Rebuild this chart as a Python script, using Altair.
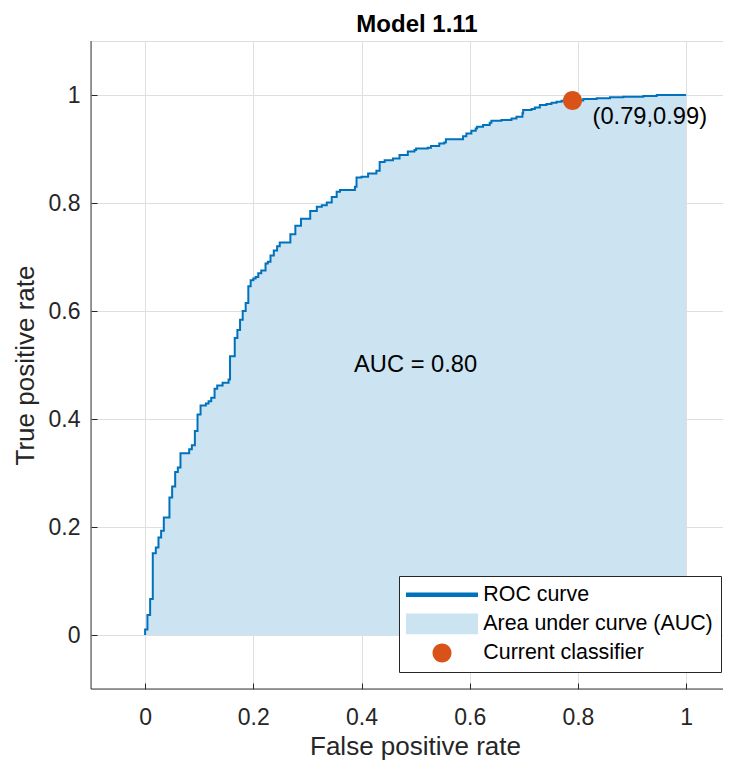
import altair as alt
import pandas as pd

# ---------------- data ----------------
FPR = [0.0, 0.0, 0.0043, 0.0093, 0.0142, 0.0198, 0.0247, 0.0296, 0.0346, 0.045,
       0.050, 0.0556, 0.0605, 0.0654, 0.0815, 0.0864, 0.092, 0.0969, 0.1025, 0.1123,
       0.1173, 0.1222, 0.1284, 0.1333, 0.1432, 0.1543, 0.157, 0.1657, 0.1706, 0.1755,
       0.1804, 0.1859, 0.1908, 0.1951, 0.2, 0.2043, 0.2092, 0.2147, 0.2226, 0.2269,
       0.2318, 0.2379, 0.244, 0.2489, 0.2685, 0.2777, 0.2881, 0.3052, 0.3174, 0.3266,
       0.3358, 0.345, 0.3541, 0.3602, 0.3878, 0.3908, 0.4, 0.4122, 0.4275, 0.4336,
       0.4428, 0.4581, 0.4703, 0.4856, 0.4979, 0.5009, 0.5223, 0.5284, 0.5437, 0.5529,
       0.556, 0.5877, 0.5938, 0.6031, 0.6111, 0.6136, 0.6247, 0.637, 0.6401, 0.6586,
       0.6772, 0.6864, 0.6975, 0.6988, 0.7142, 0.7204, 0.7296, 0.742, 0.7512, 0.7605,
       0.7698, 0.79, 0.8099, 0.8346, 0.8593, 0.884, 0.921, 0.9457, 1.0]
TPR = [0.0, 0.01, 0.037, 0.0665, 0.1516, 0.162, 0.1805, 0.193, 0.2175, 0.2545,
       0.2748, 0.302, 0.31, 0.3364, 0.3438, 0.3512, 0.3777, 0.4085, 0.4251, 0.4288,
       0.433, 0.4393, 0.456, 0.462, 0.467, 0.473, 0.516, 0.55, 0.565, 0.584,
       0.600, 0.615, 0.646, 0.657, 0.660, 0.663, 0.670, 0.675, 0.688, 0.691,
       0.703, 0.712, 0.720, 0.727, 0.742, 0.758, 0.771, 0.785, 0.793, 0.796,
       0.801, 0.811, 0.821, 0.824, 0.830, 0.847, 0.8485, 0.8547, 0.8596, 0.876,
       0.879, 0.8825, 0.889, 0.8955, 0.898, 0.901, 0.9023, 0.9054, 0.910, 0.912,
       0.918, 0.9238, 0.9288, 0.9337, 0.9381, 0.9412, 0.9443, 0.9486, 0.9523, 0.9536,
       0.9567, 0.9598, 0.966, 0.972, 0.974, 0.977, 0.9814, 0.9833, 0.9858, 0.9876,
       0.9895, 0.99, 0.9926, 0.9938, 0.9957, 0.9969, 0.9981, 1.0, 1.0]

CURRENT_FPR = 0.79
CURRENT_TPR = 0.99
AUC_VALUE = 0.80
AUC_POS = [0.5, 0.5]

X_TICKS = [0, 0.2, 0.4, 0.6, 0.8, 1]
Y_TICKS = [0, 0.2, 0.4, 0.6, 0.8, 1]
X_DOMAIN = [-0.1, 1.0682]
Y_DOMAIN = [-0.1, 1.1]

LEGEND_LABELS = ["ROC curve", "Area under curve (AUC)", "Current classifier"]
COLORS = ["#0072BD", "#CCE3F2", "#D95319"]

TITLE = "Model 1.11"
X_TITLE = "False positive rate"
Y_TITLE = "True positive rate"

# ---------------- styling ----------------
FONT = "Liberation Sans"
AX = "#262626"
GRID = "#DFDFDF"
SHAPES = [
    "M-7.2,-0.45H7.2V0.45H-7.2Z",
    "M-7.2,-2.07H7.2V2.07H-7.2Z",
    "M1.9,0A1.9,1.9,0,1,1,-1.9,0A1.9,1.9,0,1,1,1.9,0Z",
]

roc = pd.DataFrame({"fpr": FPR, "tpr": TPR, "idx": list(range(len(FPR)))})
legend_df = pd.DataFrame({
    "series": LEGEND_LABELS,
    "fpr": [None, None, CURRENT_FPR],
    "tpr": [None, None, CURRENT_TPR],
})
auc_df = pd.DataFrame({"fpr": [AUC_POS[0]], "tpr": [AUC_POS[1]],
                       "label": [f"AUC = {AUC_VALUE:.2f}"]})
cur_df = pd.DataFrame({"fpr": [CURRENT_FPR], "tpr": [CURRENT_TPR],
                       "label": [f"({CURRENT_FPR:.2f},{CURRENT_TPR:.2f})"]})

xs = alt.Scale(domain=X_DOMAIN, nice=False, zero=False)
ys = alt.Scale(domain=Y_DOMAIN, nice=False, zero=False)

xaxis = alt.Axis(
    values=X_TICKS, format="~g", title=X_TITLE, offset=-6, domain=False,
    tickSize=6, tickColor=AX, tickWidth=1,
    labelFont=FONT, labelFontSize=23, labelColor=AX, labelPadding=35,
    labelBaseline="alphabetic", labelFlush=False, labelOverlap=False,
    titleFont=FONT, titleFontSize=26, titleFontWeight="normal", titleColor=AX,
    titleX=324, titleY=71, titleBaseline="alphabetic",
    grid=True, gridColor=GRID, gridWidth=1,
)
yaxis = alt.Axis(
    values=Y_TICKS, format="~g", title=Y_TITLE, offset=-6, domain=False,
    tickSize=6, tickColor=AX, tickWidth=1,
    labelFont=FONT, labelFontSize=23, labelColor=AX, labelPadding=11,
    labelFlush=False, labelOverlap=False,
    titleFont=FONT, titleFontSize=26, titleFontWeight="normal", titleColor=AX,
    titleX=-63.4, titleY=324, titleAngle=270, titleBaseline="alphabetic",
    grid=True, gridColor=GRID, gridWidth=1,
)

X = lambda: alt.X("fpr:Q", scale=xs, axis=xaxis, title=X_TITLE)
Y = lambda: alt.Y("tpr:Q", scale=ys, axis=yaxis, title=Y_TITLE)

area = alt.Chart(roc).mark_area(
    interpolate="step-after", color=COLORS[1], opacity=1
).encode(x=X(), y=Y(), y2=alt.datum(0))

line = alt.Chart(roc).mark_line(
    interpolate="step-after", color=COLORS[0], strokeWidth=2
).encode(x=X(), y=Y(), order="idx:Q")

axis_data = alt.Data(values=[{}])
left_line = alt.Chart(axis_data).mark_rule(color="#3a3a3a", strokeWidth=1).encode(
    x=alt.datum(X_DOMAIN[0]), y=alt.datum(Y_DOMAIN[0]), y2=alt.datum(Y_DOMAIN[1]))
bottom_line = alt.Chart(axis_data).mark_rule(color="#3a3a3a", strokeWidth=1).encode(
    y=alt.datum(Y_DOMAIN[0]), x=alt.datum(X_DOMAIN[0]), x2=alt.datum(X_DOMAIN[1]))

legend = alt.Legend(
    title=None, orient="none", legendX=308, legendY=535, padding=8,
    strokeColor=AX, fillColor="white", cornerRadius=0,
    labelFont=FONT, labelFontSize=21.4, labelColor="#000", labelLimit=400,
    symbolSize=100, symbolStrokeWidth=0, symbolOffset=24.3, labelOffset=30.6,
    rowPadding=6.1, symbolOpacity=1,
)
points = alt.Chart(legend_df).mark_point(
    filled=True, size=100, opacity=1, strokeWidth=0
).encode(
    x=X(), y=Y(),
    color=alt.Color("series:N", scale=alt.Scale(domain=LEGEND_LABELS, range=COLORS), legend=legend),
    shape=alt.Shape("series:N", scale=alt.Scale(domain=LEGEND_LABELS, range=SHAPES), legend=legend),
)

auc_text = alt.Chart(auc_df).mark_text(
    font=FONT, fontSize=23.7, color="#000", align="center", baseline="middle"
).encode(x=X(), y=Y(), text="label:N")

cur_text = alt.Chart(cur_df).mark_text(
    font=FONT, fontSize=23.7, color="#000", align="left", baseline="middle", dx=20, dy=17
).encode(x=X(), y=Y(), text="label:N")

chart = alt.layer(area, line, left_line, bottom_line, points, auc_text, cur_text).properties(
    width=632, height=648,
    title=alt.TitleParams(TITLE, font=FONT, fontSize=24, fontWeight="bold", color="#000",
                          anchor="middle", frame="group", baseline="alphabetic",
                          offset=-15.5, dx=10),
    autosize=alt.AutoSizeParams(type="none"),
    padding={"left": 83, "top": 33, "right": 0, "bottom": 72},
).configure_view(stroke=None).configure(background="white")

chart.save("out.html", embed_options={"renderer": "svg", "actions": False})
